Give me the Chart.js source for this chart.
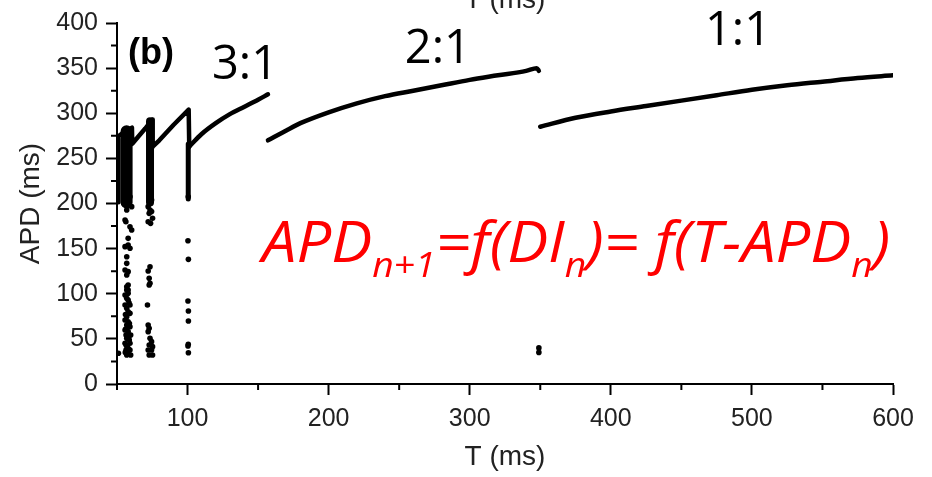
<!DOCTYPE html>
<html><head><meta charset="utf-8">
<script src="https://cdn.jsdelivr.net/npm/chart.js@4.4.1/dist/chart.umd.min.js"></script>
<style>html,body{margin:0;padding:0;background:#fff;} #wrap{position:relative;width:932px;height:477px;}</style>
</head><body><div id="wrap"><canvas id="c"></canvas></div>
<script>
// ---- data ----
const xTickValues = [100, 200, 300, 400, 500, 600];
const yTickValues = [0, 50, 100, 150, 200, 250, 300, 350, 400];
const xMinorValues = [50, 150, 250, 350, 450, 550];
const yMinorValues = [25, 75, 125, 175, 225, 275, 325, 375];

// sawtooth (period-doubling region) up to the 3:1 branch
const sawT   = [50.5, 55, 60.6, 60.8, 65, 70, 75, 75.3, 80, 90, 100.8, 101.2];
const sawAPD = [274, 279, 284, 266, 274, 283, 293, 263, 270, 287, 304, 263];
// 3:1 branch
const c31T   = [101.2, 110, 120, 130, 140, 150, 157];
const c31APD = [263, 277, 289, 299, 307, 315, 321];
// 2:1 branch
const c21T   = [157, 170, 180, 200, 220, 240, 260, 280, 300, 320, 340, 347.5, 349];
const c21APD = [270, 281, 289, 301, 311, 319, 325, 331, 337, 342, 347, 350, 347];
// 1:1 branch
const c11T   = [350, 375, 400, 425, 450, 475, 500, 525, 550, 575, 600];
const c11APD = [285, 295, 302, 308, 314, 320, 326, 331, 335, 339, 342];

// dense vertical bands of points (drawn as thick segments)
const bandT      = [51.2, 56.8, 73.4, 100.5];
const bandTop    = [272, 280, 291, 266];
const bandBottom = [201, 201, 201, 205];

// scattered points
const dotT = [
  55.7,59.2,56.9,60.4,55.7,56.3,59.2,60.4,57.9,55.7,57.9,59.2,56.9,56.9,55.7,57.9,56.9,57.9,56.9,57.9,
  56.9,57.9,55.7,56.9,57.9,55.7,59.2,56.9,57.9,59.2,56.9,55.7,57.9,56.9,59.2,55.7,57.9,56.4,59.7,56.9,
  58.7,55.7,59.2,57.3,56.4,59.2,57.9,59.7,56.9,58.5,56.0,58.8,56.2,58.3,56.5,58.2,55.9,51.0,
  73.4,74.5,72.1,73.4,74.5,72.8,75.2,72.1,73.8,73.4,72.1,72.8,73.4,72.8,71.6,72.1,72.8,72.1,73.4,74.5,
  72.8,75.2,72.1,74.5,72.8,75.2,
  100.5,100.3,100.6,100.3,100.6,100.6,100.5,100.3,100.6,
  349,349
];
const dotAPD = [
  207.5,207.5,192.8,196.5,181.7,179.8,174.3,170.6,161.4,152.2,154,150.4,141,133.7,126.3,124.5,120.8,109.7,104.2,100.5,
  107.8,104.2,98.6,94.9,93.1,87.5,87.5,83.8,80.1,78.3,74.6,70.9,69.0,65.4,63.5,59.8,58.0,54.3,54.3,50.6,
  48.8,45.1,45.1,41.4,37.7,37.7,34.0,32.1,32.1,90,77,67,61,52,43,39,35,34,
  207.5,203.9,196.5,192.8,191,189.1,183.6,179.8,178,130,125.2,117.1,111.6,109.7,87.5,65.4,61.7,58,50.6,46.9,
  43.2,41.4,37.7,37.7,32.1,32.1,
  207.5,158.8,138.1,92,80.9,69.8,44,42.1,34.7,
  40,35
];

// annotations
const noteText = ['(b)', '3:1', '2:1', '1:1'];
const noteT    = [57.8, 117.3, 254, 466.7];
const noteAPD  = [354.6, 338, 355.7, 375.6];
const formulaParts = ['APD', 'n+1', '=f(DI', 'n', ')= f(T-APD', 'n', ')'];
const formulaSub   = [false, true, false, true, false, true, false];
const formulaStartT = 152.8, formulaEndT = 598, formulaAPD = 135;

// ---- build ----
const pts = (xs, ys) => xs.map((x, i) => ({x, y: ys[i]}));
const lineDs = (xs, ys, smooth) => ({
  data: pts(xs, ys), showLine: true, borderColor: '#000', borderWidth: 4.5,
  pointRadius: 0, cubicInterpolationMode: smooth ? 'monotone' : 'default', tension: 0,
  borderCapStyle: 'round', borderJoinStyle: 'round'
});
const bandWidths = [4, 12, 8, 5];
const datasets = [
  lineDs(sawT, sawAPD, false),
  lineDs(c31T, c31APD, true),
  lineDs(c21T, c21APD, true),
  lineDs(c11T, c11APD, true),
  ...bandT.map((t, i) => ({
    data: [{x: t, y: bandTop[i]}, {x: t, y: bandBottom[i]}],
    showLine: true, borderColor: '#000', borderWidth: bandWidths[i], pointRadius: 0, borderCapStyle: 'round'
  })),
  { data: pts(dotT, dotAPD), showLine: false, pointRadius: 2.8, pointBackgroundColor: '#000', pointBorderWidth: 0 }
];

const minorTicks = {
  id: 'minorTicks',
  afterDraw(chart) {
    const {ctx, chartArea: a, scales: {x, y}} = chart;
    ctx.save();
    ctx.strokeStyle = '#000'; ctx.lineWidth = 2;
    ctx.beginPath();
    xMinorValues.forEach(v => { const px = x.getPixelForValue(v); ctx.moveTo(px, a.bottom); ctx.lineTo(px, a.bottom + 6); });
    yMinorValues.forEach(v => { const py = y.getPixelForValue(v); ctx.moveTo(a.left, py); ctx.lineTo(a.left - 6, py); });
    ctx.stroke();
    ctx.restore();
  }
};

const notes = {
  id: 'notes',
  afterDraw(chart) {
    const {ctx, scales: {x, y}, chartArea: a} = chart;
    ctx.save();
    ctx.fillStyle = '#000';
    ctx.textBaseline = 'alphabetic';
    ctx.textAlign = 'left';
    noteText.forEach((t, i) => {
      ctx.font = i === 0 ? 'bold 36px "Liberation Sans", Arial, sans-serif' : '47px "Open Sans", sans-serif';
      ctx.fillText(t, x.getPixelForValue(noteT[i]), y.getPixelForValue(noteAPD[i]));
    });
    // partial title of the panel above
    ctx.fillStyle = '#222';
    ctx.textAlign = 'center';
    ctx.font = '28px "Liberation Sans", Arial, sans-serif';
    ctx.fillText('T (ms)', (a.left + a.right) / 2, 8);
    // formula
    ctx.textAlign = 'left';
    ctx.fillStyle = '#ff0000';
    const mainF = 'italic 56px "Open Sans", sans-serif', subF = 'italic 34px "Open Sans", sans-serif';
    let total = 0;
    formulaParts.forEach((p, i) => { ctx.font = formulaSub[i] ? subF : mainF; total += ctx.measureText(p).width; });
    const x0 = x.getPixelForValue(formulaStartT), x1 = x.getPixelForValue(formulaEndT);
    const sx = (x1 - x0) / total;
    const by = y.getPixelForValue(formulaAPD);
    ctx.translate(x0, by);
    ctx.scale(sx, 1);
    let cx = 0;
    formulaParts.forEach((p, i) => {
      ctx.font = formulaSub[i] ? subF : mainF;
      ctx.fillText(p, cx, formulaSub[i] ? 15 : 0);
      cx += ctx.measureText(p).width;
    });
    ctx.restore();
  }
};

const tickFont = {family: '"Liberation Sans", Arial, sans-serif', size: 25};
const titleFont = {family: '"Liberation Sans", Arial, sans-serif', size: 28};
new Chart(document.getElementById('c'), {
  type: 'scatter',
  data: {datasets},
  options: {
    responsive: true, maintainAspectRatio: false, animation: false,
    layout: {padding: {left: 0, top: 23, right: 39, bottom: 0}},
    plugins: {legend: {display: false}, tooltip: {enabled: false}},
    scales: {
      x: {
        type: 'linear', min: 50, max: 600,
        afterBuildTicks: s => { s.ticks = xTickValues.map(v => ({value: v})); },
        afterFit: s => { s.height = 93; },
        ticks: {font: tickFont, color: '#222', padding: 9, maxRotation: 0, autoSkip: false},
        grid: {drawOnChartArea: false, drawTicks: true, tickLength: 11, tickWidth: 2, tickColor: '#000'},
        border: {display: true, color: '#000', width: 2},
        title: {display: true, text: 'T (ms)', color: '#222', font: titleFont, padding: {top: 0, bottom: 3}}
      },
      y: {
        type: 'linear', min: 0, max: 400,
        afterBuildTicks: s => { s.ticks = yTickValues.map(v => ({value: v})); },
        afterFit: s => { s.width = 117; },
        ticks: {font: tickFont, color: '#222', padding: 8, autoSkip: false},
        grid: {drawOnChartArea: false, drawTicks: true, tickLength: 11, tickWidth: 2, tickColor: '#000'},
        border: {display: true, color: '#000', width: 2},
        title: {display: true, text: 'APD (ms)', color: '#222', font: titleFont, padding: {top: 14, bottom: 0}}
      }
    }
  },
  plugins: [minorTicks, notes]
});
</script>
</body></html>
